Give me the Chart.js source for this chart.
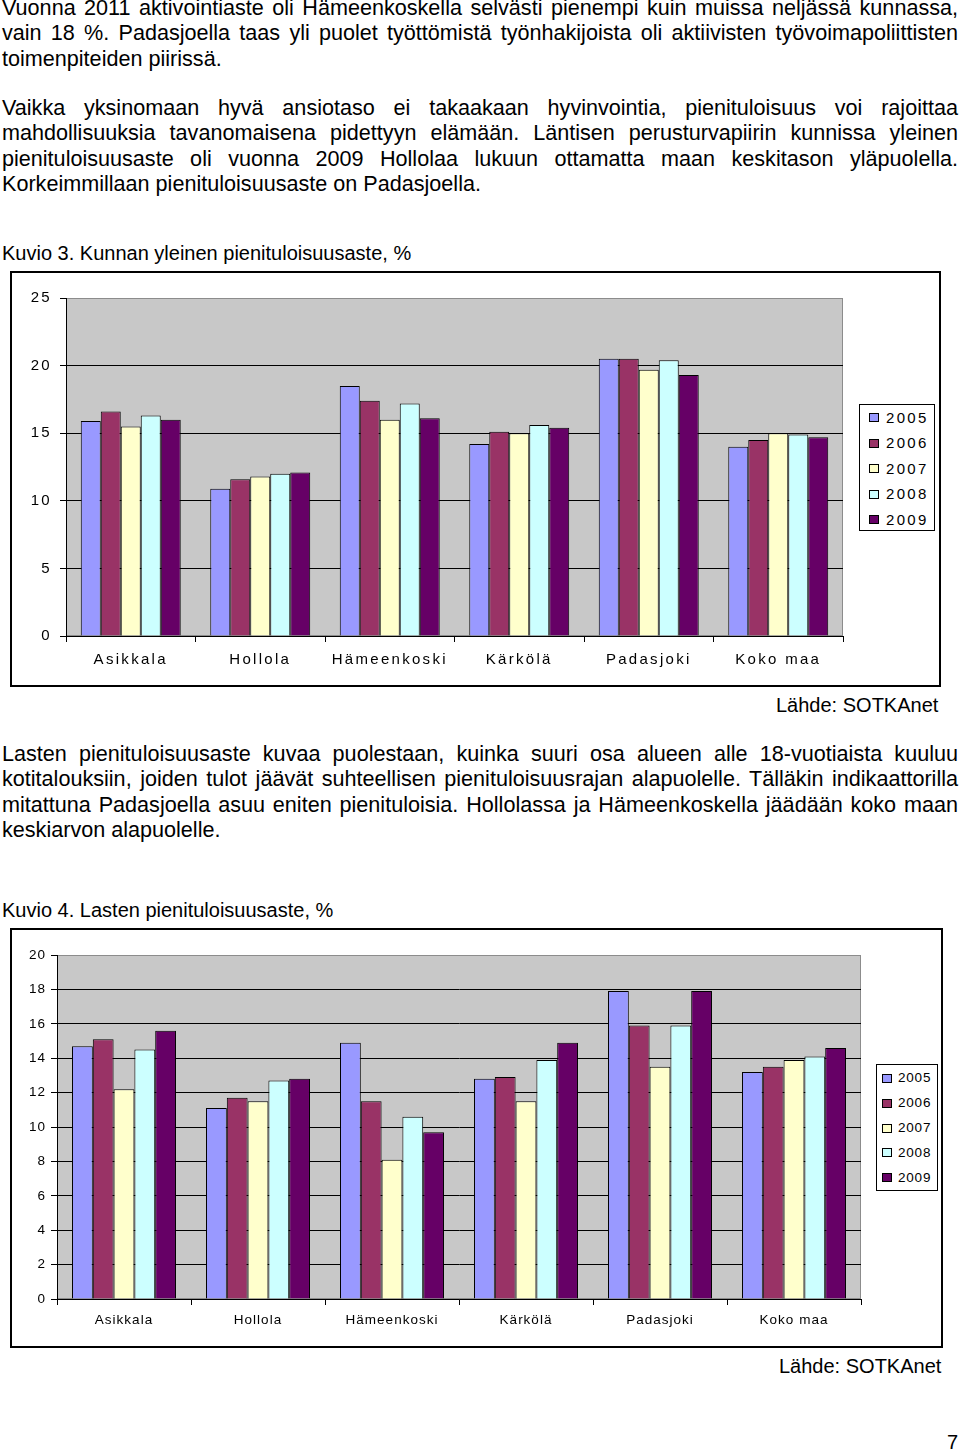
<!DOCTYPE html>
<html>
<head>
<meta charset="utf-8">
<script src="https://cdn.jsdelivr.net/npm/chart.js@4/dist/chart.umd.min.js"></script>
<style>
  body { margin: 0; background: #fff; color: #000; font-family: "Liberation Sans", Arial, sans-serif; }
  .page { position: relative; width: 960px; height: 1451px; overflow: hidden; }
  .txt { position: absolute; left: 2px; width: 956px; font-size: 21.6px; line-height: 25.3px; }
  .txt div { white-space: nowrap; text-align: justify; text-align-last: justify; }
  .txt div.last { text-align-last: left; }
  .cap { position: absolute; left: 2px; font-size: 20px; white-space: nowrap; }
  .src { position: absolute; font-size: 20px; white-space: nowrap; }
  .frame { position: absolute; border: 2px solid #000; background: #fff; }
  .frame canvas { position: absolute; left: 0; top: 0; }
  .legend { position: absolute; border: 1px solid #000; background: #fff; }
  .legend .item { position: absolute; white-space: nowrap; }
  .legend .sw { position: absolute; border: 1px solid #000; box-sizing: border-box; }
</style>
</head>
<body>
<div class="page">
  <div class="txt" style="top:-5px">
    <div>Vuonna 2011 aktivointiaste oli Hämeenkoskella selvästi pienempi kuin muissa neljässä kunnassa,</div>
    <div>vain 18 %. Padasjoella taas yli puolet työttömistä työnhakijoista oli aktiivisten työvoimapoliittisten</div>
    <div class="last">toimenpiteiden piirissä.</div>
  </div>
  <div class="txt" style="top:95px">
    <div>Vaikka yksinomaan hyvä ansiotaso ei takaakaan hyvinvointia, pienituloisuus voi rajoittaa</div>
    <div>mahdollisuuksia tavanomaisena pidettyyn elämään. Läntisen perusturvapiirin kunnissa yleinen</div>
    <div>pienituloisuusaste oli vuonna 2009 Hollolaa lukuun ottamatta maan keskitason yläpuolella.</div>
    <div class="last">Korkeimmillaan pienituloisuusaste on Padasjoella.</div>
  </div>
  <div class="cap" style="top:242px">Kuvio 3. Kunnan yleinen pienituloisuusaste, %</div>
  <div class="frame" style="left:10px;top:271px;width:927px;height:412px">
    <canvas id="chart1" width="927" height="412"></canvas>
  </div>
  <div class="legend" id="legend1" style="left:859px;top:404px;width:74px;height:125px"></div>
  <div class="src" style="left:776px;top:694px">Lähde: SOTKAnet</div>

  <div class="txt" style="top:741px">
    <div>Lasten pienituloisuusaste kuvaa puolestaan, kuinka suuri osa alueen alle 18-vuotiaista kuuluu</div>
    <div>kotitalouksiin, joiden tulot jäävät suhteellisen pienituloisuusrajan alapuolelle. Tälläkin indikaattorilla</div>
    <div>mitattuna Padasjoella asuu eniten pienituloisia. Hollolassa ja Hämeenkoskella jäädään koko maan</div>
    <div class="last">keskiarvon alapuolelle.</div>
  </div>
  <div class="cap" style="top:899px">Kuvio 4. Lasten pienituloisuusaste, %</div>
  <div class="frame" style="left:10px;top:928px;width:929px;height:416px">
    <canvas id="chart2" width="929" height="416"></canvas>
  </div>
  <div class="legend" id="legend2" style="left:876px;top:1064px;width:60px;height:125px"></div>
  <div class="src" style="left:779px;top:1355px">Lähde: SOTKAnet</div>
  <div class="src" style="left:947px;top:1431px">7</div>
</div>

<script>
// Categories and years shared by both charts
const categories = ['Asikkala', 'Hollola', 'Hämeenkoski', 'Kärkölä', 'Padasjoki', 'Koko maa'];
const years = ['2005', '2006', '2007', '2008', '2009'];
const yearColors = ['#9999ff', '#993366', '#ffffcc', '#ccffff', '#660066'];

// Kuvio 3: Kunnan yleinen pienituloisuusaste, %
const general2005 = [15.9, 10.9, 18.5, 14.2, 20.5, 14.0];
const general2006 = [16.6, 11.6, 17.4, 15.1, 20.5, 14.5];
const general2007 = [15.5, 11.8, 16.0, 15.0, 19.7, 15.0];
const general2008 = [16.3, 12.0, 17.2, 15.6, 20.4, 14.9];
const general2009 = [16.0, 12.1, 16.1, 15.4, 19.3, 14.7];

// Kuvio 4: Lasten pienituloisuusaste, %
const children2005 = [14.7, 11.1, 14.9, 12.8, 17.9, 13.2];
const children2006 = [15.1, 11.7, 11.5, 12.9, 15.9, 13.5];
const children2007 = [12.2, 11.5, 8.1, 11.5, 13.5, 13.9];
const children2008 = [14.5, 12.7, 10.6, 13.9, 15.9, 14.1];
const children2009 = [15.6, 12.8, 9.7, 14.9, 17.9, 14.6];

const generalSeries = [general2005, general2006, general2007, general2008, general2009];
const childrenSeries = [children2005, children2006, children2007, children2008, children2009];

Chart.defaults.font.family = '"Liberation Sans", Arial, sans-serif';
Chart.defaults.color = '#000';

// grey plot area like the original spreadsheet chart
const plotBackground = {
  id: 'plotBackground',
  beforeDraw(chart, args, opts) {
    const { ctx, chartArea: a } = chart;
    ctx.letterSpacing = opts.spacing || '0px';
    ctx.save();
    ctx.fillStyle = '#c8c8c8';
    ctx.fillRect(a.left, a.top, a.right - a.left, a.bottom - a.top);
    ctx.strokeStyle = '#8c8c8c';
    ctx.lineWidth = 1;
    ctx.strokeRect(a.left + 0.5, a.top + 0.5, a.right - a.left - 1, a.bottom - a.top - 1);
    ctx.restore();
  }
};

function makeChart(id, series, cfg) {
  const ctx = document.getElementById(id).getContext('2d');
  return new Chart(ctx, {
    type: 'bar',
    data: {
      labels: categories,
      datasets: series.map((data, i) => ({
        label: years[i],
        data,
        backgroundColor: yearColors[i],
        borderColor: '#000',
        borderWidth: 1,
        borderSkipped: 'bottom',
        categoryPercentage: cfg.catPct,
        barPercentage: 1
      }))
    },
    options: {
      responsive: false,
      animation: false,
      layout: { padding: { top: cfg.top, right: cfg.right, left: 0, bottom: 0 } },
      plugins: {
        legend: { display: false },
        tooltip: { enabled: false },
        plotBackground: { spacing: cfg.spacing }
      },
      scales: {
        x: {
          grid: { offset: true, drawOnChartArea: false, drawTicks: true, tickLength: 6, tickColor: '#000' },
          border: { display: true, color: '#000', width: 1 },
          ticks: { font: { size: cfg.fontSize }, padding: cfg.xPad, autoSkip: false, maxRotation: 0 },
          afterFit: s => { s.height = cfg.xHeight; }
        },
        y: {
          min: 0,
          max: cfg.max,
          ticks: { stepSize: cfg.step, font: { size: cfg.fontSize }, padding: cfg.yPad },
          grid: {
            color: c => (c.tick && c.tick.value === cfg.max) ? 'rgba(0,0,0,0)' : '#000',
            tickColor: '#000',
            tickLength: 6,
            lineWidth: 1
          },
          border: { display: true, color: '#000', width: 1 },
          afterFit: s => { s.width = cfg.yWidth; }
        }
      }
    },
    plugins: [plotBackground]
  });
}

function buildLegend(elId, cfg) {
  const el = document.getElementById(elId);
  el.innerHTML = years.map((y, i) => `
    <div class="sw" style="left:${cfg.swLeft}px;top:${cfg.first + i * cfg.gap - cfg.swH / 2}px;width:${cfg.swW}px;height:${cfg.swH}px;background:${yearColors[i]}"></div>
    <div class="item" style="left:${cfg.textLeft}px;top:${cfg.first + i * cfg.gap - cfg.fontSize * 0.6}px;font-size:${cfg.fontSize}px;letter-spacing:${cfg.spacing};line-height:${cfg.fontSize * 1.2}px">${y}</div>
  `).join('');
}

makeChart('chart1', generalSeries, {
  max: 25, step: 5, catPct: 0.772, top: 25, right: 96, xHeight: 49, yWidth: 54,
  fontSize: 15, spacing: '2.3px', xPad: 9, yPad: 8
});
makeChart('chart2', childrenSeries, {
  max: 20, step: 2, catPct: 0.776, top: 25, right: 80, xHeight: 47, yWidth: 45,
  fontSize: 13.5, spacing: '1px', xPad: 7, yPad: 5
});

buildLegend('legend1', { swLeft: 9, swW: 10, swH: 9, textLeft: 26, first: 12.5, gap: 25.5, fontSize: 15, spacing: '2.3px' });
buildLegend('legend2', { swLeft: 5, swW: 10, swH: 9, textLeft: 21, first: 13.5, gap: 24.8, fontSize: 13.5, spacing: '0.8px' });
</script>
</body>
</html>
